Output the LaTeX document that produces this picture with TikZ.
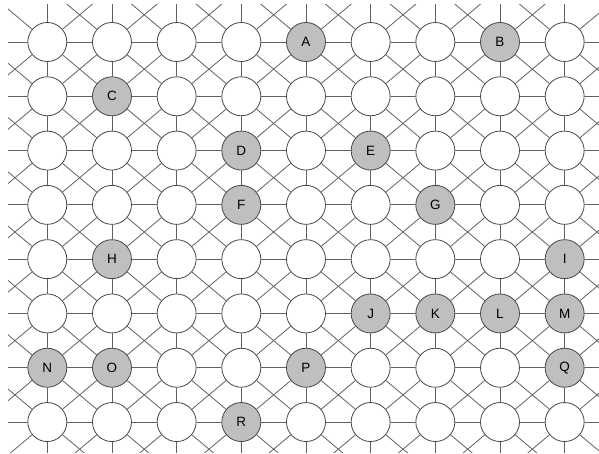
\documentclass[tikz,border=0pt]{standalone}
\usepackage{fontspec}
\setmainfont{Liberation Sans}
\newcommand\mylab[2]{\expandafter\def\csname lab#1\endcsname{#2}}
\mylab{4-0}{A}\mylab{7-0}{B}\mylab{1-1}{C}\mylab{3-2}{D}\mylab{5-2}{E}
\mylab{3-3}{F}\mylab{6-3}{G}\mylab{1-4}{H}\mylab{8-4}{I}\mylab{5-5}{J}
\mylab{6-5}{K}\mylab{7-5}{L}\mylab{8-5}{M}\mylab{0-6}{N}\mylab{1-6}{O}
\mylab{4-6}{P}\mylab{8-6}{Q}\mylab{3-7}{R}
\newcommand\myedge[5]{% c r dc dr onlyvirtual
  \pgfmathtruncatemacro\tc{#1+#3}%
  \pgfmathtruncatemacro\tr{#2+#4}%
  \pgfmathtruncatemacro\inside{(\tc>=0)&&(\tc<=8)&&(\tr>=0)&&(\tr<=7)}%
  \pgfmathtruncatemacro\vi{\tc+1}%
  \pgfmathtruncatemacro\vj{\tr+1}%
  \ifnum\inside=1
    \ifnum#5=0 \draw[link] (n#1-#2) -- (n\tc-\tr);\fi
  \else
    \draw[link] (n#1-#2) -- (v\vi-\vj);
  \fi}
\begin{document}
\begin{tikzpicture}[x=1pt,y=-1pt,
  cell/.style={circle,draw=black!72,line width=0.8pt,minimum size=39pt,inner sep=0pt,
    font=\fontsize{13.5}{14}\selectfont},
  plain/.style={fill=white},
  hi/.style={fill=black!25},
  link/.style={draw=black!62,line width=0.8pt}]
\useasboundingbox (0,0) rectangle (599,454);
\foreach \i in {0,...,10}{\foreach \j in {0,...,9}{
  \coordinate (v\i-\j) at ({47.3+64.67*(\i-1)},{42+54.29*(\j-1)});}}
\foreach \c in {0,...,8}{\foreach \r in {0,...,7}{
  \ifcsname lab\c-\r\endcsname \def\sty{hi}\else\def\sty{plain}\fi
  \node[cell,\sty] (n\c-\r) at ({47.3+64.67*\c},{42+54.29*\r}) {\csname lab\c-\r\endcsname};}}
\begin{scope}
\clip (8,5) rectangle (599,452);
\foreach \c in {0,...,8}{\foreach \r in {0,...,7}{
  \myedge{\c}{\r}{1}{0}{0}
  \myedge{\c}{\r}{0}{1}{0}
  \myedge{\c}{\r}{1}{1}{0}
  \myedge{\c}{\r}{-1}{1}{0}
  \myedge{\c}{\r}{-1}{0}{1}
  \myedge{\c}{\r}{0}{-1}{1}
  \myedge{\c}{\r}{-1}{-1}{1}
  \myedge{\c}{\r}{1}{-1}{1}
}}
\end{scope}
\end{tikzpicture}
\end{document}
